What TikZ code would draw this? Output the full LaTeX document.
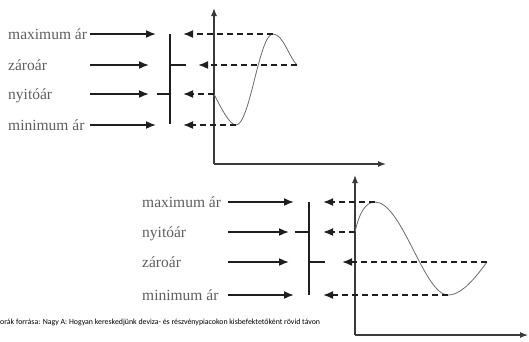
\documentclass[tikz,border=0pt]{standalone}
\usepackage{fontspec}
\setmainfont{Liberation Serif}
\newfontfamily\capfont{Carlito}
\usetikzlibrary{arrows.meta}
\definecolor{textgray}{HTML}{5E5E5E}
\definecolor{ink}{HTML}{1E1E1E}
\definecolor{axisgray}{HTML}{3A3A3A}
\definecolor{curvegray}{HTML}{6A6A6A}
\begin{document}
\begin{tikzpicture}[x=1pt,y=-1pt,
  lbl/.style={anchor=base west, inner sep=0pt, text=textgray, font=\fontsize{15.5}{16}\selectfont},
  solidarr/.style={draw=ink, line width=1.7pt, -{Latex[length=10pt,width=8pt]}},
  dasharr/.style={solidarr, dash pattern=on 6pt off 4pt},
  barline/.style={draw=ink, line width=2pt},
  axisline/.style={draw=axisgray, line width=1.1pt, -{Latex[length=8pt,width=6pt]}},
  curveline/.style={draw=curvegray, line width=0.8pt}]
\useasboundingbox (0,0) rectangle (529,341);

% ---------- top diagram ----------
\node[lbl] (tmaxl) at (8,39) {maximum ár};
\node[lbl] (tclol) at (8,70) {zároár};
\node[lbl] (topel) at (8,99) {nyitóár};
\node[lbl] (tminl) at (8,130) {minimum ár};
\coordinate (tmaxs) at (90,34);  \coordinate (tmaxe) at (156,34);
\coordinate (tclos) at (90,65);  \coordinate (tcloe) at (149,65);
\coordinate (topes) at (90,94);  \coordinate (topee) at (149,94);
\coordinate (tmins) at (90,125); \coordinate (tmine) at (156,125);
\draw[solidarr] (tmaxs) -- (tmaxe);
\draw[solidarr] (tclos) -- (tcloe);
\draw[solidarr] (topes) -- (topee);
\draw[solidarr] (tmins) -- (tmine);
% candle
\coordinate (tbart) at (170,34); \coordinate (tbarb) at (170,124);
\coordinate (tclo) at (170,65); \coordinate (tclot) at (186,65);
\coordinate (tope) at (170,94); \coordinate (topet) at (157,94);
\draw[barline] (tbart) -- (tbarb);
\draw[barline] (tclo) -- (tclot);
\draw[barline] (tope) -- (topet);
% axes
\coordinate (torig) at (214,164);
\coordinate (tyend) at (214,8);
\coordinate (txend) at (386,164);
\draw[axisline] (torig) -- (tyend);
\draw[axisline] (torig) -- (txend);
% curve
\coordinate (tc0) at (214,94);
\coordinate (tcmin) at (236,125);
\coordinate (tcmax) at (273,34);
\coordinate (tc3) at (297,65);
\draw[curveline] (tc0) .. controls (222,110) and (230,125) .. (tcmin)
  .. controls (250,125) and (259,34) .. (tcmax)
  .. controls (283,34) and (289,57) .. (tc3);
% dashed arrows
\coordinate (tdmax) at (183,34);
\coordinate (tdclo) at (198,65);
\coordinate (tdope) at (183,94);
\coordinate (tdmin) at (183,125);
\draw[dasharr] (tcmax) -- (tdmax);
\draw[dasharr] (tc3) -- (tdclo);
\draw[dasharr] (tc0) -- (tdope);
\draw[dasharr] (tcmin) -- (tdmin);

% ---------- bottom diagram ----------
\node[lbl] (bmaxl) at (142,207) {maximum ár};
\node[lbl] (bopel) at (142,237) {nyitóár};
\node[lbl] (bclol) at (142,267) {zároár};
\node[lbl] (bminl) at (142,300) {minimum ár};
\coordinate (bmaxs) at (228,202); \coordinate (bmaxe) at (294,202);
\coordinate (bopes) at (228,232); \coordinate (bopee) at (289,232);
\coordinate (bclos) at (228,262); \coordinate (bcloe) at (289,262);
\coordinate (bmins) at (228,295); \coordinate (bmine) at (294,295);
\draw[solidarr] (bmaxs) -- (bmaxe);
\draw[solidarr] (bopes) -- (bopee);
\draw[solidarr] (bclos) -- (bcloe);
\draw[solidarr] (bmins) -- (bmine);
% candle
\coordinate (bbart) at (309,202); \coordinate (bbarb) at (309,295);
\coordinate (bope) at (309,232); \coordinate (bopet) at (295,232);
\coordinate (bclo) at (309,262); \coordinate (bclot) at (325,262);
\draw[barline] (bbart) -- (bbarb);
\draw[barline] (bope) -- (bopet);
\draw[barline] (bclo) -- (bclot);
% axes
\coordinate (borig) at (355,335);
\coordinate (byend) at (355,175);
\coordinate (bxend) at (528,335);
\draw[axisline] (borig) -- (byend);
\draw[axisline] (borig) -- (bxend);
% curve
\coordinate (bc0) at (355,232);
\coordinate (bcmax) at (375,202);
\coordinate (bcmin) at (448,295);
\coordinate (bc3) at (487,262);
\draw[curveline] (bc0) .. controls (359,214) and (365,202) .. (bcmax)
  .. controls (402,202) and (424,295) .. (bcmin)
  .. controls (463,295) and (478,274) .. (bc3);
% dashed arrows
\coordinate (bdmax) at (323,202);
\coordinate (bdope) at (323,232);
\coordinate (bdclo) at (342,262);
\coordinate (bdmin) at (323,295);
\draw[dasharr] (bcmax) -- (bdmax);
\draw[dasharr] (bc0) -- (bdope);
\draw[dasharr] (bc3) -- (bdclo);
\draw[dasharr] (bcmin) -- (bdmin);

% caption
\node[anchor=base west, inner sep=0pt, text=black, font=\capfont\fontsize{7.85}{8}\selectfont] (cap) at (0,324)
  {orák forrása: Nagy A: Hogyan kereskedjünk deviza- és részvénypiacokon kisbefektetőként rövid távon};
\end{tikzpicture}
\end{document}
